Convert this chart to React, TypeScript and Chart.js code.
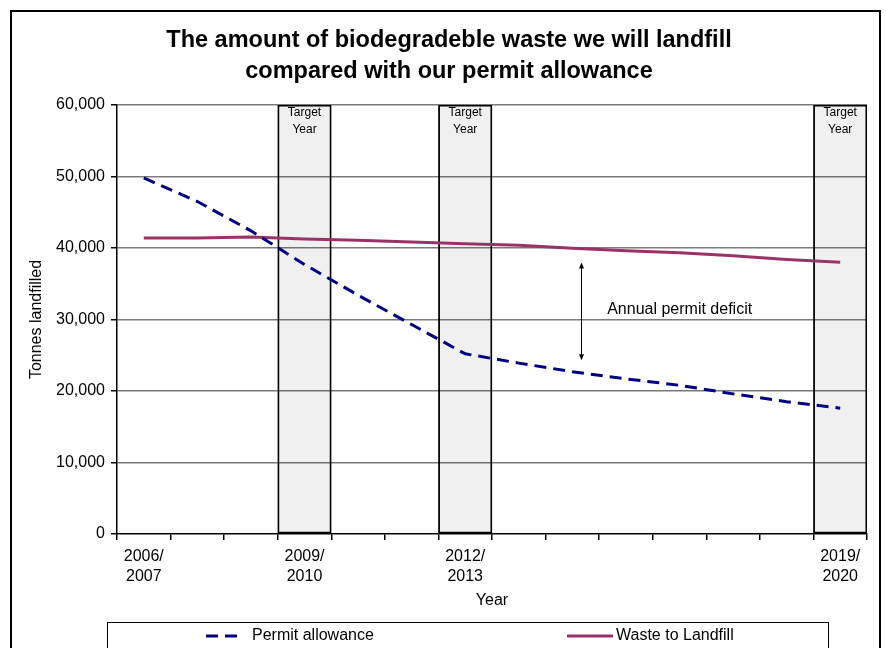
import React, { useEffect, useRef } from "react";
import { Chart, registerables } from "chart.js";

Chart.register(...registerables);

const categories = [
  "2006/2007", "2007/2008", "2008/2009", "2009/2010", "2010/2011", "2011/2012", "2012/2013",
  "2013/2014", "2014/2015", "2015/2016", "2016/2017", "2017/2018", "2018/2019", "2019/2020",
];
const shownLabels = ["2006/2007", "2009/2010", "2012/2013", "2019/2020"];
const targetYears = ["2009/2010", "2012/2013", "2019/2020"];
const permitAllowance = [49800, 46500, 42400, 37700, 33400, 29300, 25200, 23900, 22700, 21700, 20800, 19600, 18500, 17600];
const wasteToLandfill = [41400, 41400, 41550, 41250, 41100, 40850, 40600, 40400, 39950, 39600, 39350, 38900, 38400, 38000];
const yMin = 0;
const yMax = 60000;
const yStep = 10000;
const targetBoxValue = 60000;
const targetLabel = ["Target", "Year"];
const titleLines = ["The amount of biodegradeble waste we will landfill", "compared with our permit allowance"];
const deficitArrow = { category: 8.17, from: 37960, to: 24290 };
const deficitLabel = { text: "Annual permit deficit", category: 8.65, value: 31400 };

const FONT = '"Liberation Sans", Arial, sans-serif';

const decorPlugin = {
  id: "decor",
  beforeDraw(chart: any) {
    const ctx = chart.ctx;
    ctx.save();
    ctx.strokeStyle = "#000";
    ctx.lineWidth = 2;
    ctx.strokeRect(11, 11, 869, 700);
    ctx.fillStyle = "#000";
    ctx.font = `bold 23.5px ${FONT}`;
    ctx.textAlign = "center";
    ctx.textBaseline = "middle";
    titleLines.forEach((t, i) => ctx.fillText(t, 449, 41 + i * 31));
    ctx.restore();
  },
  afterDatasetsDraw(chart: any) {
    const ctx = chart.ctx;
    const xs = chart.scales.x;
    const ys = chart.scales.y;
    ctx.save();
    const barMeta = chart.getDatasetMeta(0);
    ctx.fillStyle = "#000";
    ctx.font = `12px ${FONT}`;
    ctx.textAlign = "center";
    ctx.textBaseline = "middle";
    barMeta.data.forEach((el: any, i: number) => {
      if (chart.data.datasets[0].data[i] == null) return;
      targetLabel.forEach((t, j) => ctx.fillText(t, el.x, el.y + 8 + j * 17));
    });
    const ax = Math.round(xs.getPixelForValue(deficitArrow.category)) + 0.5;
    const y1 = ys.getPixelForValue(deficitArrow.from);
    const y2 = ys.getPixelForValue(deficitArrow.to);
    ctx.strokeStyle = "#000";
    ctx.lineWidth = 1;
    ctx.beginPath();
    ctx.moveTo(ax, y1 + 3);
    ctx.lineTo(ax, y2 - 3);
    ctx.stroke();
    ctx.beginPath();
    ctx.moveTo(ax, y1);
    ctx.lineTo(ax - 2.5, y1 + 6);
    ctx.lineTo(ax + 2.5, y1 + 6);
    ctx.closePath();
    ctx.fill();
    ctx.beginPath();
    ctx.moveTo(ax, y2);
    ctx.lineTo(ax - 2.5, y2 - 6);
    ctx.lineTo(ax + 2.5, y2 - 6);
    ctx.closePath();
    ctx.fill();
    ctx.font = `16px ${FONT}`;
    ctx.textAlign = "left";
    ctx.fillText(deficitLabel.text, xs.getPixelForValue(deficitLabel.category), ys.getPixelForValue(deficitLabel.value));
    ctx.restore();
  },
  afterDraw(chart: any) {
    const ctx = chart.ctx;
    ctx.save();
    ctx.strokeStyle = "#000";
    ctx.lineWidth = 1;
    ctx.strokeRect(107.5, 622.5, 721, 60);
    const ds = chart.data.datasets;
    const items = [
      { d: ds[1], x0: 206, x1: 242, tx: 252 },
      { d: ds[2], x0: 567, x1: 613, tx: 616 },
    ];
    ctx.font = `16px ${FONT}`;
    ctx.textAlign = "left";
    ctx.textBaseline = "middle";
    items.forEach((it) => {
      ctx.strokeStyle = it.d.borderColor;
      ctx.lineWidth = it.d.borderWidth;
      ctx.setLineDash(it.d.borderDash || []);
      ctx.beginPath();
      ctx.moveTo(it.x0, 636);
      ctx.lineTo(it.x1, 636);
      ctx.stroke();
      ctx.setLineDash([]);
      ctx.fillStyle = "#000";
      ctx.fillText(it.d.label, it.tx, 636);
    });
    ctx.restore();
  },
};

export default function App() {
  const ref = useRef<HTMLCanvasElement>(null);
  useEffect(() => {
    const chart = new Chart(ref.current as HTMLCanvasElement, {
      type: "line",
      data: {
        labels: categories,
        datasets: [
          {
            type: "bar",
            label: "Target Year",
            data: categories.map((c) => (targetYears.includes(c) ? targetBoxValue : null)),
            backgroundColor: "rgba(0,0,0,0.06)",
            borderColor: "#000",
            borderWidth: 1.2,
            borderSkipped: false,
            barPercentage: 1,
            categoryPercentage: 1,
            order: 3,
          } as any,
          {
            label: "Permit allowance",
            data: permitAllowance,
            borderColor: "#000080",
            backgroundColor: "#000080",
            borderWidth: 3,
            borderDash: [12, 7],
            pointRadius: 0,
            tension: 0,
            order: 1,
          },
          {
            label: "Waste to Landfill",
            data: wasteToLandfill,
            borderColor: "#993366",
            backgroundColor: "#993366",
            borderWidth: 3,
            pointRadius: 0,
            tension: 0,
            order: 2,
          },
        ],
      },
      options: {
        animation: false,
        responsive: false,
        devicePixelRatio: 1,
        layout: { padding: { left: 0, right: 19, top: 105, bottom: 34 } },
        plugins: { legend: { display: false }, title: { display: false }, tooltip: { enabled: false } },
        scales: {
          x: {
            offset: true,
            grid: { offset: true, drawOnChartArea: false, drawTicks: true, tickLength: 6, tickColor: "#000", lineWidth: 1.5 },
            border: { display: true, color: "#000", width: 1.5 },
            ticks: {
              autoSkip: false,
              maxRotation: 0,
              minRotation: 0,
              padding: 7,
              color: "#000",
              font: { family: FONT, size: 16, lineHeight: 1.25 },
              callback: (_v: any, i: number) => {
                const c = categories[i];
                if (!shownLabels.includes(c)) return "";
                const [a, b] = c.split("/");
                return [a + "/", b];
              },
            },
            title: { display: true, text: "Year", color: "#000", font: { family: FONT, size: 16 }, padding: { top: 0, bottom: 4 } },
            afterFit: (s: any) => { s.height = 80; },
          },
          y: {
            min: yMin,
            max: yMax,
            grid: {
              color: (c: any) => (c.tick && c.tick.value === 0 ? "rgba(0,0,0,0)" : "#7a7a7a"),
              lineWidth: 1.5,
              tickLength: 6,
              tickColor: "#000",
            },
            border: { display: true, color: "#000", width: 1.5 },
            ticks: {
              stepSize: yStep,
              padding: 6,
              color: "#000",
              font: { family: FONT, size: 16 },
              callback: (v: any) => Number(v).toLocaleString("en-US"),
            },
            title: { display: true, text: "Tonnes landfilled", color: "#000", font: { family: FONT, size: 16 }, padding: { top: 27, bottom: 0 } },
            afterFit: (s: any) => { s.width = 117; },
          },
        },
      },
      plugins: [decorPlugin],
    } as any);
    return () => chart.destroy();
  }, []);
  return (
    <div style={{ position: "absolute", left: 0, top: 0, width: 886, height: 648, background: "#fff" }}>
      <canvas ref={ref} width={886} height={648} />
    </div>
  );
}
